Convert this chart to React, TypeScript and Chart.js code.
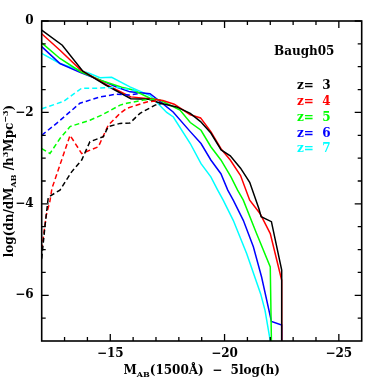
import React, { useEffect, useRef } from "react";
import { Chart, registerables } from "chart.js";

Chart.register(...registerables);

// ---- data (x = M_AB(1500Å) - 5log(h), y = log(dn/dM)) ----
const z3SolidX = [-12, -12.9, -13.8, -14.8, -15.9, -16.7, -17.2, -17.9, -18.5, -18.95, -19.4, -19.85, -20.25, -20.7, -21.1, -21.5, -21.6, -22.05, -22.5, -22.5];
const z3SolidY = [-0.2, -0.53, -1.1, -1.4, -1.7, -1.71, -1.8, -1.88, -2.02, -2.2, -2.45, -2.82, -2.95, -3.22, -3.53, -4.1, -4.28, -4.39, -5.45, -7.0];
const z4SolidX = [-12, -12.8, -13.7, -14.85, -15.9, -16.7, -17.3, -17.8, -18.5, -18.95, -19.4, -19.85, -20.25, -20.7, -21.1, -21.55, -22.0, -22.5, -22.5];
const z4SolidY = [-0.28, -0.64, -1.07, -1.4, -1.66, -1.7, -1.74, -1.82, -2.05, -2.12, -2.42, -2.8, -3.04, -3.38, -3.92, -4.21, -4.65, -5.67, -7.0];
const z5SolidX = [-12, -12.8, -13.7, -14.6, -15.5, -16.0, -16.74, -17.17, -18.05, -18.5, -18.97, -19.4, -19.84, -20.28, -20.57, -20.82, -21.4, -22.0, -22.05];
const z5SolidY = [-0.48, -0.82, -1.11, -1.3, -1.45, -1.51, -1.69, -1.73, -1.95, -2.22, -2.39, -2.75, -3.04, -3.41, -3.7, -3.92, -4.65, -5.38, -7.0];
const z6SolidX = [-12, -12.8, -13.7, -14.6, -15.3, -15.86, -16.74, -17.1, -17.75, -18.5, -18.97, -19.4, -19.84, -20.14, -20.38, -20.82, -21.26, -21.62, -22.05, -22.5, -22.5];
const z6SolidY = [-0.56, -0.93, -1.13, -1.3, -1.45, -1.55, -1.59, -1.73, -1.99, -2.42, -2.68, -3.04, -3.34, -3.7, -3.92, -4.36, -4.94, -5.6, -6.57, -6.65, -7.0];
const z7SolidX = [-12, -12.8, -14.1, -14.55, -15.06, -15.86, -16.74, -17.47, -17.76, -18.5, -18.97, -19.4, -19.7, -19.94, -20.38, -20.97, -21.58, -21.77, -22.0];
const z7SolidY = [-0.71, -0.93, -1.15, -1.24, -1.23, -1.44, -1.63, -2.0, -2.1, -2.68, -3.12, -3.41, -3.7, -3.92, -4.36, -5.09, -5.97, -6.33, -7.0];

const z3DashX = [-12, -12.14, -12.29, -12.8, -13.31, -13.75, -14.11, -14.7, -14.91, -15.43, -15.86, -16.3, -16.96, -17.3];
const z3DashY = [-5.2, -4.5, -3.85, -3.7, -3.3, -3.04, -2.64, -2.53, -2.31, -2.24, -2.23, -2.02, -1.84, -1.8];
const z4DashX = [-12, -12.2, -12.36, -12.45, -13.24, -13.75, -14.48, -14.91, -15.43, -15.72, -16.6, -17.2];
const z4DashY = [-5.0, -4.25, -3.94, -3.66, -2.5, -2.9, -2.75, -2.28, -2.02, -1.91, -1.77, -1.74];
const z5DashX = [-12, -12.36, -12.8, -13.24, -13.67, -14.11, -14.62, -15.43, -15.72, -16.45, -17.0];
const z5DashY = [-2.79, -2.9, -2.57, -2.31, -2.24, -2.17, -2.06, -1.84, -1.8, -1.73, -1.71];
const z6DashX = [-12, -12.65, -13.67, -14.55, -15.28, -15.86, -16.3];
const z6DashY = [-2.5, -2.24, -1.8, -1.66, -1.6, -1.62, -1.58];
const z7DashX = [-12, -12.95, -13.75, -14.48, -15.28, -15.86, -16.2];
const z7DashY = [-1.92, -1.76, -1.47, -1.47, -1.45, -1.5, -1.53];

const seriesColors = ["#000000", "#ff0000", "#00ff00", "#0000ff", "#00ffff"];
const legendLabels = ["z=  3", "z=  4", "z=  5", "z=  6", "z=  7"];
const legendTitle = "Baugh05";

const xMajorTicks = [-15, -20, -25];
const xMinorTicks = [-13, -14, -16, -17, -18, -19, -21, -22, -23, -24];
const xTickLabels = ["\u221215", "\u221220", "\u221225"];
const yMajorTicks = [0, -2, -4, -6];
const yMinorTicks = [-0.5, -1, -1.5, -2.5, -3, -3.5, -4.5, -5, -5.5, -6.5];
const yTickLabels = ["0", "\u22122", "\u22124", "\u22126"];

const FONT = '"DejaVu Serif", serif';

type Seg = { t: string; m?: "sub" | "sup" };

function drawRich(ctx: CanvasRenderingContext2D, segs: Seg[], size: number) {
  const small = Math.round(size * 0.65);
  let total = 0;
  const widths = segs.map((s) => {
    ctx.font = `bold ${s.m ? small : size}px ${FONT}`;
    const w = ctx.measureText(s.t).width;
    total += w;
    return w;
  });
  let x = -total / 2;
  segs.forEach((s, i) => {
    ctx.font = `bold ${s.m ? small : size}px ${FONT}`;
    const dy = s.m === "sub" ? size * 0.25 : s.m === "sup" ? -size * 0.4 : 0;
    ctx.fillText(s.t, x, dy);
    x += widths[i];
  });
}

const framePlugin = {
  id: "frame",
  afterDatasetsDraw(chart: any) {
    const ctx: CanvasRenderingContext2D = chart.ctx;
    const { left, right, top, bottom } = chart.chartArea;
    const xs = chart.scales.x;
    const ys = chart.scales.y;
    ctx.save();
    ctx.strokeStyle = "#000";
    ctx.fillStyle = "#000";
    ctx.lineWidth = 1.6;
    ctx.strokeRect(left, top, right - left, bottom - top);
    ctx.lineWidth = 1.3;
    const major = 7;
    const minor = 4;
    ctx.beginPath();
    const xt = (v: number, len: number) => {
      const p = xs.getPixelForValue(v);
      ctx.moveTo(p, bottom);
      ctx.lineTo(p, bottom - len);
      ctx.moveTo(p, top);
      ctx.lineTo(p, top + len);
    };
    const yt = (v: number, len: number) => {
      const p = ys.getPixelForValue(v);
      ctx.moveTo(left, p);
      ctx.lineTo(left + len, p);
      ctx.moveTo(right, p);
      ctx.lineTo(right - len, p);
    };
    xMajorTicks.forEach((v) => xt(v, major));
    xMinorTicks.forEach((v) => xt(v, minor));
    yMajorTicks.forEach((v) => yt(v, major));
    yMinorTicks.forEach((v) => yt(v, minor));
    ctx.stroke();

    // tick labels
    ctx.font = `bold 12px ${FONT}`;
    ctx.textAlign = "center";
    ctx.textBaseline = "alphabetic";
    xMajorTicks.forEach((v, i) => {
      ctx.fillText(xTickLabels[i], xs.getPixelForValue(v), bottom + 16);
    });
    ctx.textAlign = "right";
    ctx.textBaseline = "middle";
    yMajorTicks.forEach((v, i) => {
      ctx.fillText(yTickLabels[i], left - 8, ys.getPixelForValue(v));
    });

    // legend
    ctx.textAlign = "left";
    ctx.textBaseline = "middle";
    ctx.font = `bold 12px ${FONT}`;
    ctx.fillStyle = "#000";
    ctx.fillText(legendTitle, 274, 52);
    legendLabels.forEach((l, i) => {
      ctx.fillStyle = seriesColors[i];
      ctx.fillText(l, 297, 86 + i * 15.8);
    });

    // axis titles
    ctx.fillStyle = "#000";
    ctx.textAlign = "left";
    ctx.textBaseline = "alphabetic";
    ctx.save();
    ctx.translate((left + right) / 2, 374);
    drawRich(ctx, [{ t: "M" }, { t: "AB", m: "sub" }, { t: "(1500\u00c5)  \u2212  5log(h)" }], 12);
    ctx.restore();
    ctx.save();
    ctx.translate(13, (top + bottom) / 2);
    ctx.rotate(-Math.PI / 2);
    drawRich(ctx, [{ t: "log(dn/dM" }, { t: "AB", m: "sub" }, { t: " /h" }, { t: "3", m: "sup" }, { t: "Mpc" }, { t: "\u22123", m: "sup" }, { t: ")" }], 12);
    ctx.restore();
    ctx.restore();
  },
};

function pts(xs: number[], ys: number[]) {
  return xs.map((x, i) => ({ x, y: ys[i] }));
}

export default function App() {
  const ref = useRef<HTMLCanvasElement>(null);
  useEffect(() => {
    if (!ref.current) return;
    const solids = [
      [z3SolidX, z3SolidY],
      [z4SolidX, z4SolidY],
      [z5SolidX, z5SolidY],
      [z6SolidX, z6SolidY],
      [z7SolidX, z7SolidY],
    ];
    const dashes = [
      [z3DashX, z3DashY],
      [z4DashX, z4DashY],
      [z5DashX, z5DashY],
      [z6DashX, z6DashY],
      [z7DashX, z7DashY],
    ];
    const datasets: any[] = [];
    dashes.forEach(([x, y], i) =>
      datasets.push({
        data: pts(x, y),
        borderColor: seriesColors[i],
        borderWidth: 1.5,
        borderDash: [5, 3],
        showLine: true,
        pointRadius: 0,
        tension: 0,
      })
    );
    solids.forEach(([x, y], i) =>
      datasets.push({
        data: pts(x, y),
        borderColor: seriesColors[i],
        borderWidth: 1.5,
        showLine: true,
        pointRadius: 0,
        tension: 0,
      })
    );
    const chart = new Chart(ref.current, {
      type: "scatter",
      data: { datasets },
      options: {
        animation: false,
        responsive: false,
        layout: { padding: { left: 41.7, right: 20.3, top: 21, bottom: 41 } },
        plugins: { legend: { display: false }, tooltip: { enabled: false } },
        scales: {
          x: { type: "linear", min: -26, max: -12, reverse: true, display: false },
          y: { type: "linear", min: -7, max: 0, display: false },
        },
      },
      plugins: [framePlugin],
    });
    return () => chart.destroy();
  }, []);
  return (
    <div style={{ position: "fixed", left: 0, top: 0, width: 382, height: 382, background: "#fff" }}>
      <canvas ref={ref} width={382} height={382} />
    </div>
  );
}
